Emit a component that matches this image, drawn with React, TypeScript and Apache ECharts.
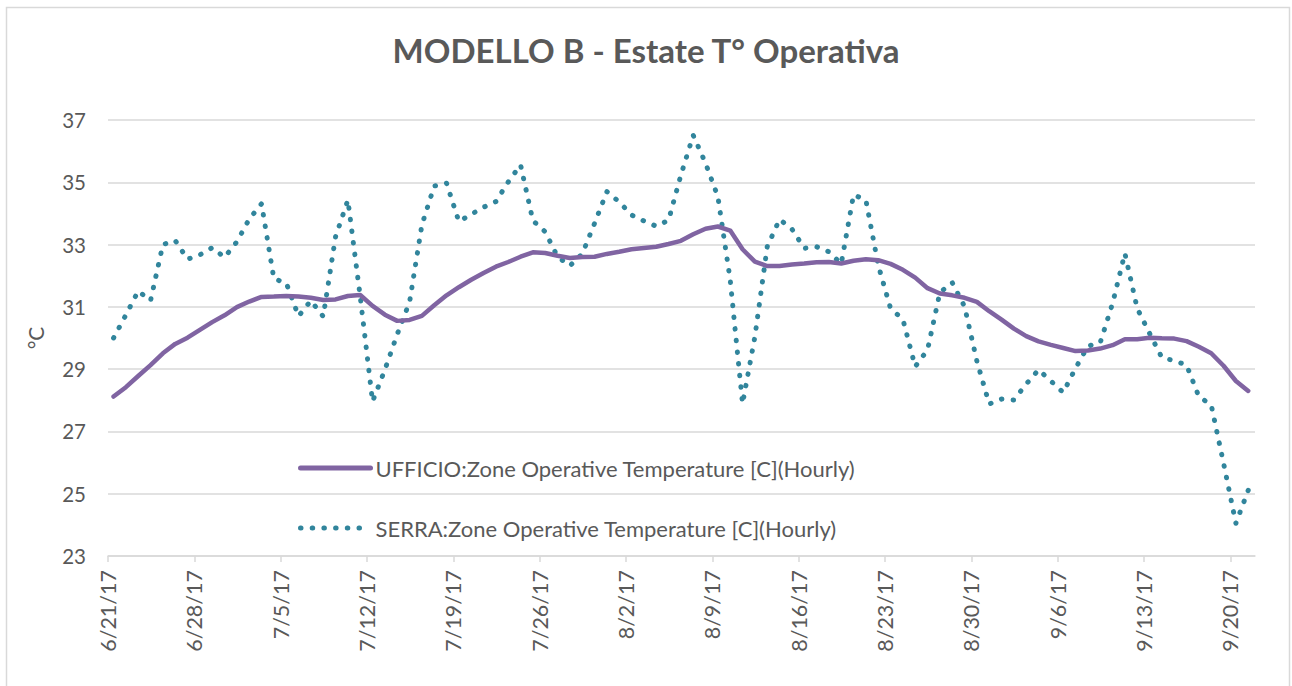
import React, { useEffect, useRef } from "react";
import * as echarts from "echarts";

const START_DATE = new Date(2017, 5, 21); // 6/21/17
const AXIS_DAYS = 93; // axis runs to 9/22/17
const TICK_DAYS = [0, 7, 14, 21, 28, 35, 42, 49, 56, 63, 70, 77, 84, 91];
const Y_TICKS = [23, 25, 27, 29, 31, 33, 35, 37];

const SERIES_NAMES = [
  "UFFICIO:Zone Operative Temperature [C](Hourly)",
  "SERRA:Zone Operative Temperature [C](Hourly)",
];

// daily values, 6/21/17 .. 9/21/17
const ufficio = [
  28.12, 28.42, 28.78, 29.13, 29.51, 29.81, 30.01, 30.26, 30.51, 30.73,
  30.99, 31.17, 31.32, 31.33, 31.35, 31.33, 31.29, 31.22, 31.24, 31.35,
  31.38, 31.03, 30.75, 30.55, 30.58, 30.71, 31.05, 31.37, 31.63, 31.87,
  32.09, 32.29, 32.44, 32.61, 32.75, 32.73, 32.64, 32.57, 32.6, 32.61,
  32.7, 32.77, 32.85, 32.89, 32.93, 33.02, 33.12, 33.33, 33.51, 33.58,
  33.45, 32.85, 32.45, 32.31, 32.31, 32.36, 32.39, 32.43, 32.44, 32.39,
  32.48, 32.53, 32.5, 32.38, 32.19, 31.94, 31.6, 31.43, 31.37, 31.29,
  31.16, 30.86, 30.59, 30.3, 30.06, 29.89, 29.78, 29.68, 29.58, 29.6,
  29.66, 29.77, 29.96, 29.96, 30.01, 29.99, 29.98, 29.9, 29.72, 29.51,
  29.11, 28.62, 28.3,
];

const serra = [
  30.0, 30.74, 31.51, 31.2, 33.0, 33.13, 32.53, 32.67, 32.9, 32.59,
  33.09, 33.82, 34.31, 31.9, 31.77, 30.7, 31.2, 30.69, 33.25, 34.43,
  31.33, 27.96, 28.98, 30.12, 31.15, 33.63, 34.88, 34.97, 33.74, 33.97,
  34.2, 34.38, 35.01, 35.56, 33.77, 33.41, 32.61, 32.32, 32.7, 33.68,
  34.7, 34.37, 33.95, 33.76, 33.59, 33.78, 35.23, 36.51, 35.61, 34.54,
  31.86, 27.89, 30.04, 32.93, 33.81, 33.5, 32.88, 32.93, 32.77, 32.38,
  34.6, 34.43, 32.34, 30.95, 30.6, 29.08, 29.62, 31.46, 31.78, 31.01,
  29.26, 27.88, 28.04, 28.01, 28.52, 28.98, 28.62, 28.25, 29.03, 29.74,
  29.85, 31.11, 32.72, 30.95, 30.15, 29.37, 29.27, 29.13, 28.12, 27.85,
  25.98, 24.05, 25.11,
];

const DAY_OFFSET = 0.45; // daily average plotted within the day

function fmtDate(dayIndex: number): string {
  const d = new Date(START_DATE.getTime());
  d.setDate(d.getDate() + Math.round(dayIndex));
  return `${d.getMonth() + 1}/${d.getDate()}/${String(d.getFullYear()).slice(2)}`;
}

const TEXT = "#595959";
const GRID = "#d9d9d9";
const FONT = "Lato, 'Open Sans', sans-serif";

export default function App() {
  const ref = useRef<HTMLDivElement>(null);
  useEffect(() => {
    document.body.style.margin = "0";
    const chart = echarts.init(ref.current!, undefined, { renderer: "svg" });
    chart.setOption({
      animation: false,
      backgroundColor: "#ffffff",
      textStyle: { fontFamily: FONT },
      title: {
        text: "MODELLO B - Estate T° Operativa",
        left: "center",
        top: 28,
        textStyle: { fontFamily: FONT, fontSize: 33, fontWeight: "bold", color: TEXT },
      },
      graphic: [
        {
          type: "rect",
          shape: { x: 6.5, y: 7.5, width: 1283, height: 700 },
          style: { fill: "none", stroke: GRID, lineWidth: 1.5 },
          silent: true,
        },
      ],
      grid: { left: 108, right: 37, top: 120, bottom: 130, containLabel: false },
      legend: {
        orient: "vertical",
        left: 293,
        top: 452,
        itemWidth: 70,
        itemHeight: 20,
        itemGap: 38,
        data: SERIES_NAMES,
        itemStyle: { opacity: 0 },
        lineStyle: { width: 5, cap: "round" },
        textStyle: { fontFamily: FONT, fontSize: 22, color: TEXT },
      },
      xAxis: {
        type: "value",
        min: 0,
        max: AXIS_DAYS,
        interval: 7,
        axisLine: { show: true, onZero: false, lineStyle: { color: GRID, width: 1.5 } },
        axisTick: {
          show: true,
          length: 6,
          customValues: TICK_DAYS,
          lineStyle: { color: GRID, width: 1.5 },
        },
        axisLabel: {
          customValues: TICK_DAYS,
          rotate: 90,
          margin: 14,
          fontFamily: FONT,
          fontSize: 21.5,
          color: TEXT,
          formatter: (v: number) => fmtDate(v),
        },
        splitLine: { show: false },
      },
      yAxis: {
        type: "value",
        min: Y_TICKS[0],
        max: Y_TICKS[Y_TICKS.length - 1],
        interval: 2,
        name: "°C",
        nameLocation: "middle",
        nameRotate: 90,
        nameGap: 62,
        nameTextStyle: { fontFamily: FONT, fontSize: 21, color: TEXT },
        axisLine: { show: false },
        axisTick: { show: false },
        axisLabel: { margin: 22, fontFamily: FONT, fontSize: 20.5, color: TEXT },
        splitLine: { lineStyle: { color: GRID, width: 1.5 } },
      },
      series: [
        {
          name: SERIES_NAMES[0],
          type: "line",
          symbol: "none",
          data: ufficio.map((v, i) => [i + DAY_OFFSET, v]),
          lineStyle: { color: "#8064a2", width: 4.5, cap: "round", join: "round" },
          itemStyle: { color: "#8064a2" },
          z: 3,
        },
        {
          name: SERIES_NAMES[1],
          type: "line",
          symbol: "none",
          data: serra.map((v, i) => [i + DAY_OFFSET, v]),
          lineStyle: { color: "#31859c", width: 5, type: [0.5, 11.2], cap: "round", join: "round" },
          itemStyle: { color: "#31859c" },
          z: 2,
        },
      ],
    });
    return () => chart.dispose();
  }, []);
  return (
    <div
      ref={ref}
      style={{ position: "fixed", left: 0, top: 0, width: 1292, height: 686 }}
    />
  );
}
